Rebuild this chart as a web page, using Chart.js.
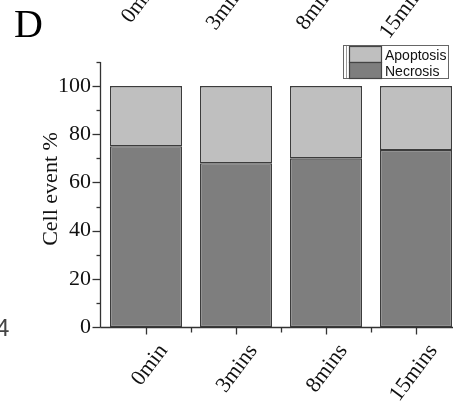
<!DOCTYPE html>
<html>
<head>
<meta charset="utf-8">
<script src="https://cdn.jsdelivr.net/npm/chart.js@4/dist/chart.umd.min.js"></script>
<style>
  html, body { margin: 0; padding: 0; background: #fff; overflow: hidden; }
  #wrap { width: 453px; height: 410px; overflow: hidden; position: relative; }
  canvas { display: block; }
</style>
</head>
<body>
<div id="wrap"><canvas id="c" width="470" height="410"></canvas></div>
<script>
// ---- data ----
const categories = ["0min", "3mins", "8mins", "15mins"];
const necrosis = [75, 68, 70, 73.5];
const apoptosis = [25, 32, 30, 26.5];
const yMajorTicks = [0, 20, 40, 60, 80, 100];
const yMinorTicks = [10, 30, 50, 70, 90, 110];
const yTitle = "Cell event %";
const panelLetter = "D";
const sideDigit = "4";

const DARK = "#7e7e7e";
const LIGHT = "#bfbfbf";
const EDGE = "#3c3c3c";
const SERIF = "'Liberation Serif', 'Times New Roman', serif";
const SANS = "'Liberation Sans', Arial, sans-serif";

const decor = {
  id: "decor",
  afterDraw(chart) {
    const ctx = chart.ctx;
    const xs = chart.scales.x, ys = chart.scales.y;
    const axisX = xs.left - 0.5;
    const axisY = ys.getPixelForValue(0) + 0.5;
    ctx.save();
    ctx.strokeStyle = "#333";
    ctx.lineWidth = 1.3;
    // y axis line
    ctx.beginPath();
    ctx.moveTo(axisX, ys.getPixelForValue(110));
    ctx.lineTo(axisX, axisY);
    ctx.stroke();
    // y ticks
    yMajorTicks.forEach(v => {
      const y = Math.round(ys.getPixelForValue(v)) + 0.5;
      ctx.beginPath(); ctx.moveTo(axisX - 8, y); ctx.lineTo(axisX, y); ctx.stroke();
    });
    yMinorTicks.forEach(v => {
      const y = Math.round(ys.getPixelForValue(v)) + 0.5;
      ctx.beginPath(); ctx.moveTo(axisX - 4, y); ctx.lineTo(axisX, y); ctx.stroke();
    });
    // x axis line
    ctx.beginPath();
    ctx.moveTo(axisX, axisY);
    ctx.lineTo(chart.width, axisY);
    ctx.stroke();
    // x ticks
    categories.forEach((c, i) => {
      const x = Math.round(xs.getPixelForValue(i)) + 0.5;
      ctx.beginPath(); ctx.moveTo(x, axisY); ctx.lineTo(x, axisY + 7); ctx.stroke();
      const b = Math.round(xs.getPixelForValue(i + 0.5)) + 0.5;
      ctx.beginPath(); ctx.moveTo(b, axisY); ctx.lineTo(b, axisY + 5); ctx.stroke();
    });
    // x labels (rotated)
    const ang = -53 * Math.PI / 180;
    ctx.fillStyle = "#111";
    ctx.font = "22px " + SERIF;
    ctx.textAlign = "right";
    ctx.textBaseline = "alphabetic";
    categories.forEach((c, i) => {
      const x = xs.getPixelForValue(i);
      ctx.save();
      ctx.translate(x + 22, axisY + 23);
      ctx.rotate(ang);
      ctx.fillText(c, 0, 0);
      ctx.restore();
      // labels of the panel above (cut off by the image edge)
      ctx.save();
      ctx.translate(x + 12, -12);
      ctx.rotate(ang);
      ctx.fillText(c, 0, 0);
      ctx.restore();
    });
    // y title
    ctx.save();
    ctx.translate(56.5, 189);
    ctx.rotate(-Math.PI / 2);
    ctx.textAlign = "center";
    ctx.font = "22px " + SERIF;
    ctx.fillText(yTitle, 0, 0);
    ctx.restore();
    // panel letter
    ctx.textAlign = "left";
    ctx.font = "40px " + SERIF;
    ctx.fillStyle = "#000";
    ctx.fillText(panelLetter, 14, 37);
    // partial digit on the left edge
    ctx.font = "24px " + SANS;
    ctx.fillStyle = "#444";
    ctx.fillText(sideDigit, -4, 336);
    // legend
    const ds = chart.data.datasets;
    ctx.lineWidth = 1;
    ctx.strokeStyle = "#666";
    ctx.strokeRect(343.5, 45.5, 105, 33);
    ctx.strokeStyle = "#999";
    ctx.beginPath(); ctx.moveTo(346.5, 46); ctx.lineTo(346.5, 78); ctx.stroke();
    const entries = [ds[1], ds[0]];
    entries.forEach((d, k) => {
      const top = 46.5 + k * 16;
      ctx.fillStyle = d.backgroundColor;
      ctx.fillRect(349.5, top, 32, 16);
      ctx.strokeStyle = "#444";
      ctx.lineWidth = 1.2;
      ctx.strokeRect(349.5, top, 32, 16);
      ctx.fillStyle = "#111";
      ctx.font = "14px " + SANS;
      ctx.textAlign = "left";
      ctx.fillText(d.label, 385, top + 13.5);
    });
    ctx.restore();
  }
};

new Chart(document.getElementById("c"), {
  type: "bar",
  data: {
    labels: categories,
    datasets: [
      { label: "Necrosis", data: necrosis, backgroundColor: DARK, borderColor: EDGE, borderWidth: 1.3, borderSkipped: false },
      { label: "Apoptosis", data: apoptosis, backgroundColor: LIGHT, borderColor: EDGE, borderWidth: 1.3, borderSkipped: false }
    ]
  },
  options: {
    responsive: false,
    animation: false,
    devicePixelRatio: 1,
    layout: { padding: { top: 62, right: 9, bottom: 0, left: 0 } },
    datasets: { bar: { barPercentage: 0.8, categoryPercentage: 1.0 } },
    plugins: { legend: { display: false }, tooltip: { enabled: false }, title: { display: false } },
    scales: {
      x: {
        stacked: true,
        grid: { display: false, drawTicks: false },
        border: { display: false },
        ticks: { display: false },
        afterFit(s) { s.height = 83; }
      },
      y: {
        stacked: true,
        min: 0, max: 110,
        grid: { display: false, drawTicks: false },
        border: { display: false },
        afterBuildTicks(s) { s.ticks = yMajorTicks.map(v => ({ value: v })); },
        afterFit(s) { s.width = 101; },
        ticks: { color: "#111", padding: 10, font: { family: SERIF, size: 22 } }
      }
    }
  },
  plugins: [decor]
});
</script>
</body>
</html>
